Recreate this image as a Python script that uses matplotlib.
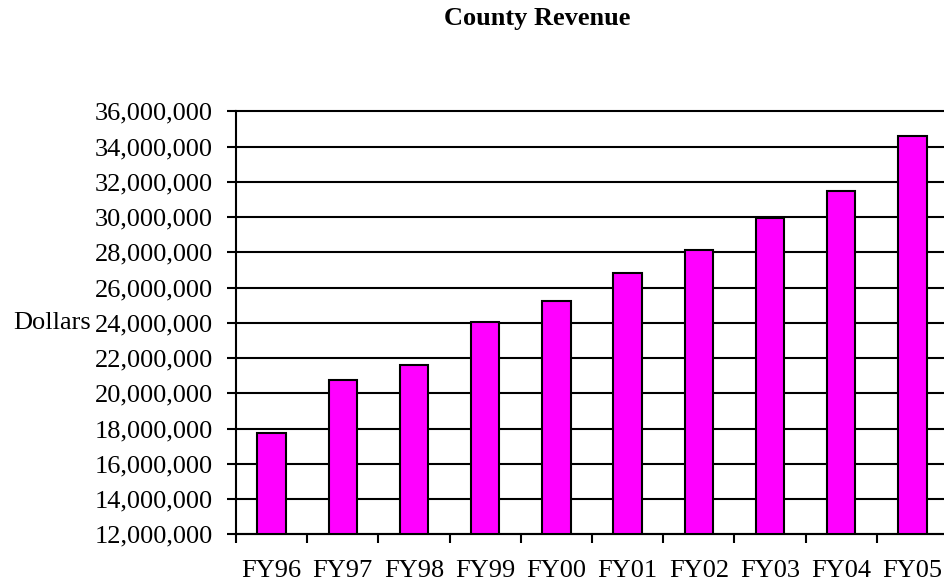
import numpy as np
import matplotlib
matplotlib.use("Agg")
import matplotlib.pyplot as plt
from matplotlib.ticker import FuncFormatter

plt.rcParams['font.family'] = ['Liberation Serif', 'DejaVu Serif']

years = ['FY96', 'FY97', 'FY98', 'FY99', 'FY00', 'FY01', 'FY02', 'FY03', 'FY04', 'FY05']
revenue = [17770000, 20770000, 21590000, 24030000, 25240000,
           26810000, 28110000, 29930000, 31470000, 34610000]
yticks = np.arange(12000000, 36000001, 2000000)

W, H = 944, 587
fig = plt.figure(figsize=(W / 100, H / 100), dpi=100)
# plot area runs a little past the right edge, as in the original
ax = fig.add_axes([236 / W, 52.7 / H, 712 / W, 423 / H])

x = np.arange(len(years))
ax.bar(x, revenue, width=0.4, color='#FF00FF', edgecolor='black', linewidth=1.5, zorder=3)

ax.set_xlim(-0.5, len(years) - 0.5)
ax.set_ylim(yticks[0], yticks[-1])
ax.set_yticks(yticks)
ax.yaxis.set_major_formatter(FuncFormatter(lambda v, p: f'{int(v):,}'))
ax.grid(axis='y', color='black', linewidth=1.5, zorder=0)
for g in ax.yaxis.get_gridlines():
    g.set_clip_on(False)

# category boundaries carry the ticks, labels sit at the bar centres
ax.set_xticks(np.arange(len(years)) - 0.5)
ax.set_xticklabels([])
ax.set_xticks(x, minor=True)
ax.set_xticklabels(years, minor=True)
ax.tick_params(axis='x', which='major', direction='out', length=6.5, width=1.5)
ax.tick_params(axis='x', which='minor', length=0, pad=18.5, labelsize=19)
ax.tick_params(axis='y', direction='out', length=6.5, width=1.5, pad=10, labelsize=19)

for s in ['top', 'right']:
    ax.spines[s].set_visible(False)
for s in ['left', 'bottom']:
    ax.spines[s].set_linewidth(1.5)
    ax.spines[s].set_zorder(4)

ax.set_ylabel('Dollars', rotation=0, fontsize=19, ha='right', va='center')
ax.yaxis.set_label_coords((91 - 236) / 712, 0.5)

fig.text(537.5 / W, 1 - 19 / H, 'County Revenue', ha='center', va='center',
         fontsize=19, fontweight='bold')

fig.savefig('out.png', dpi=100)
